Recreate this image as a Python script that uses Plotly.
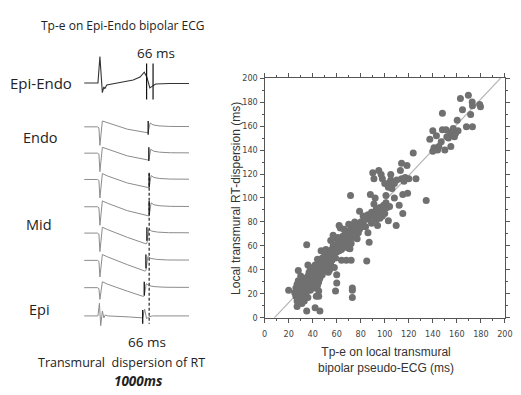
import plotly.graph_objects as go

W, H = 521, 395

# ---------------- scatter data (Tp-e vs local transmural RT dispersion) ----------------
scatter_pairs = [
    (20,23),(25,21),(26,25),(26,18),(27,14),(27,22),(27,28),(27,9.5),(28,17),(28,20),(28,25),(28,31),
    (28,39.5),(29,13),(29,19),(29,23),(29,27),(30,15),(30,21),(30,25),(30,30),(30,35),(31,12),(31,18),
    (31,23),(31,28),(32,16),(32,20),(32,26),(32,33),(33,14),(33,22),(33,29),(33,24),(34,19),(34,27),
    (34,32),(35,5.7),(35,22),(35,30),(35,61),(36,17),(36,25),(36,35),(36,44),(37,29),(37,38),
    (38,23),(38,32),(38,41),(39,34),(39,27),(40,30),(40,36),(40,42),(41,25),(41,32),(41,39),(42,8.4),
    (42,29),(42,35),(42,44),(43,18),(43,31),(43,37),(44,27),(44,33),(44,40),(44,49),(45,18),(45,22.5),
    (45,30),(45,36),(45,43),(46,5.7),(46,33),(46,38),(46,47),(47,41),(47,56),(48,36),(48,45),(48,50),
    (49,40),(49,47),(50,42),(50,52),(51,45),(51,57),(52,43),(52,49),(53,38),(53,47),(53,54),(54,40),
    (54,51),(55,44),(55,55),(55,64.5),(56,48),(56,57),(57,53),(57,60),(57,69),(58,42),(58,56),
    (59,22.5),(59,50),(59,61),(60,36),(60,29),(60,55),(60,66),
    (61,58),(61,67),(62,56),(62,62),(62,77),(63,60),(63,75),(64,48),(64,57),(64,64),(65,59),(65,62),
    (65,68),(66,60),(66,66),(66,74),(67,63),(67,70),(68,48),(68,59),(68,66),(69,62),(69,72),(70,58),
    (70,65),(70,78),(71,57.7),(71,68),(71.5,102),(72,48),(72,62),(72,75),(73,25),(73,23),(73,17),
    (73,70),(74,67),(74,78),(75,72),(75,80),(76,70),(77,66),(77,75),(78,71),(78,77),(79,89),(79,74),
    (80,80),
    (81,76),(82,85),(82,79),(83,82),(84,76),(85,47.4),(85,83),(86,71),(86,86),(87,63),(87,82),(88,85),
    (88,103),(89,79),(89,88),(90,85),(90,121),(91,95),(91,116),(92,87),(92,100),(93,82),(93,91),
    (94,77),(94,89),(95,123),(95,86),(96,83),(96,92),(97,119.5),(97,88),(98,116),(98,85),(99,94),
    (99,90),(100,112),(100,87),(101,102),(101,96),(102,92),(103,109),(103,81),(104,113),(104,93),
    (105,119.5),(105,115),(106,108),(107,113),(108,100),(108,112),(109.5,77),(110,115),
    (112,94),(113,123),(114,129),(114,116),(115,103),(115,87),(116,114),(117,117),(118.5,127),
    (119,104),(120,116),(123.7,137.6),(126,116),(134.5,98),
    (137.5,149),(140,139),(140,156),(141,142),(142,141),(143,152),(144,140),(145,143),(147,147),
    (148,170.7),(148,157),(150,140),(151,157),(151.7,151),(153,150),(154,152),(155,143),(155,155),
    (156,153),(157,158),(158,151),(159,154),(160.3,164.8),(161,156),(163,183),(164.7,173.7),
    (168,159.5),(169.6,185.6),(172.8,180),(171.5,169.6),(173,159.5),(173,177),(179.7,176),(179,178),
]
tpe_ms = [p[0] for p in scatter_pairs]
rt_dispersion_ms = [p[1] for p in scatter_pairs]

fit_x = [8, 196.5]
fit_y = [0, 200]

axis_ticks = [0, 20, 40, 60, 80, 100, 120, 140, 160, 180, 200]

# ---------------- ECG data (time in ms, amplitude in arbitrary units) ----------------
epi_endo_t = [0, 140, 160, 185, 200, 210, 230, 370, 500, 570, 613, 640, 670, 700, 730, 870, 1070]
epi_endo_amp = [0, 0, 27, -10, -4, -6, -2, 1, 3, 6, 11, 6, -5, -3, -1, -0.5, -0.5]
epi_endo_tpe = [637, 703]          # Tp-e limits, 66 ms

lead_rt_ms = [653, 660, 663, 663, 640, 630, 613, 597]   # repolarization times
lead_st_depth = [6, 7, 9, 10, 11, 11, 9, 2]
lead_qrs_up = [6, 6, 6, 6, 6, 6, 6, 13]
lead_qrs_down = [19, 19, 19, 19, 19, 17, 12, 10]
dispersion_ref_lead = 2            # dashed line at latest RT

# layout positions for the left panel (pixel rows)
lead_rows = [125, 152, 179, 207, 234, 262, 290, 319]
epi_endo_row = 80


def lead_wave(i):
    rt = lead_rt_ms[i]
    d = lead_st_depth[i]
    qu = lead_qrs_up[i]
    qd = lead_qrs_down[i]
    if i == len(lead_rt_ms) - 1:
        t = [0, 140, 155, 168, 185, 200, 215, 240, 450, rt, rt + 20, rt + 40, rt + 60, rt + 100, 1070]
        a = [0, 0, qu, -qd, 5, -2, 1, 0, -1, -d, 7, -3, -1, 0, 0]
    else:
        t = [0, 135, 150, 160, 185, 200, 240, 440, rt - 10, rt, rt + 20, rt + 50, rt + 110, rt + 220, 1070]
        a = [0, 0, -1, -qd, qu, qu - 0.5, qu - 2.5, -d * 0.4, -d, -d + 0.5, 4, 2, 1, 0.4, 0.3]
    return t, a


fig = go.Figure()

# ECG traces
for i in range(len(lead_rt_ms)):
    t, a = lead_wave(i)
    fig.add_trace(go.Scatter(x=t, y=[lead_rows[i] - v for v in a], mode="lines",
                             line=dict(color="#8c8c8c", width=1), xaxis="x2", yaxis="y2",
                             hoverinfo="skip", showlegend=False))

fig.add_trace(go.Scatter(x=epi_endo_t, y=[epi_endo_row - v for v in epi_endo_amp], mode="lines",
                         line=dict(color="#333333", width=1.1), xaxis="x2", yaxis="y2",
                         hoverinfo="skip", showlegend=False))

# Tp-e markers on Epi-Endo
mx, my = [], []
for tt in epi_endo_tpe:
    mx += [tt, tt, None]
    my += [epi_endo_row - 20, epi_endo_row + 17, None]
fig.add_trace(go.Scatter(x=mx, y=my, mode="lines", line=dict(color="#111111", width=1.2),
                         xaxis="x2", yaxis="y2", hoverinfo="skip", showlegend=False))

# RT markers on each lead
mx, my = [], []
for i, rt in enumerate(lead_rt_ms):
    mx += [rt, rt, None]
    my += [lead_rows[i] - 6, lead_rows[i] + 8, None]
fig.add_trace(go.Scatter(x=mx, y=my, mode="lines", line=dict(color="#111111", width=1.3),
                         xaxis="x2", yaxis="y2", hoverinfo="skip", showlegend=False))

# dashed line at latest RT
tref = lead_rt_ms[dispersion_ref_lead]
fig.add_trace(go.Scatter(x=[tref, tref], y=[lead_rows[dispersion_ref_lead] - 7, lead_rows[-1] + 8],
                         mode="lines", line=dict(color="#111111", width=1.1, dash="3px,2px"),
                         xaxis="x2", yaxis="y2", hoverinfo="skip", showlegend=False))

# scatter plot
fig.add_trace(go.Scatter(x=fit_x, y=fit_y, mode="lines", line=dict(color="#b5b5b5", width=1.2),
                         hoverinfo="skip", showlegend=False))
fig.add_trace(go.Scatter(x=tpe_ms, y=rt_dispersion_ms, mode="markers",
                         marker=dict(color="#707070", size=7, line=dict(width=0)),
                         showlegend=False))

ax_common = dict(range=[0, 200], tickvals=axis_ticks, ticks="outside", ticklen=4, tickwidth=1,
                 tickcolor="#555", linecolor="#555", linewidth=1.3, mirror="allticks",
                 showgrid=False, zeroline=False, showline=True,
                 tickfont=dict(family="DejaVu Sans Condensed, Liberation Sans Narrow, Liberation Sans",
                               size=9, color="#444"),
                 minor=dict(ticks="outside", ticklen=2, dtick=10, tickcolor="#555"))

fig.update_layout(
    width=W, height=H, margin=dict(l=0, r=0, t=0, b=0),
    paper_bgcolor="white", plot_bgcolor="white",
    xaxis=dict(domain=[267.3 / W, 512.7 / W], anchor="y", **ax_common),
    yaxis=dict(domain=[1 - 321 / H, 1 - 75 / H], anchor="x", **ax_common),
    xaxis2=dict(domain=[0, 230 / W], range=[-830, 1470], visible=False, anchor="y2"),
    yaxis2=dict(domain=[0, 1], range=[H, 0], visible=False, anchor="x2"),
)
fig.update_xaxes(ticklabelstandoff=3, selector=dict(anchor="y"))


def px(x, y):
    return x / W, 1 - y / H


def label(text, x, y, size, xanchor="center", family="Open Sans", color="#222", **kw):
    ax, ay = px(x, y)
    fig.add_annotation(text=text, x=ax, y=ay, xref="paper", yref="paper", showarrow=False,
                       xanchor=xanchor, yanchor="middle",
                       font=dict(family=family, size=size, color=color), **kw)


label("Tp-e on Epi-Endo bipolar ECG", 122.5, 21, 12)
label("66 ms", 156, 49, 13.5)
label("Epi-Endo", 39, 80, 15)
label("Endo", 38, 136, 14.5)
label("Mid", 37, 225, 14.5)
label("Epi", 37, 312, 14.5)
label("66 ms", 147.5, 346, 13.5)
label("Transmural  dispersion of RT", 34, 367, 12.5, xanchor="left")
label("<b><i>1000ms</i></b>", 138, 386, 13.5)

label("Local transmural RT-dispersion (ms)", 238, 198, 12, family="Liberation Sans", color="#333",
      textangle=-90)
label("Tp-e on local transmural<br>bipolar pseudo-ECG (ms)", 391, 364, 12, family="Liberation Sans",
      color="#333")

fig.write_html("out.html")
